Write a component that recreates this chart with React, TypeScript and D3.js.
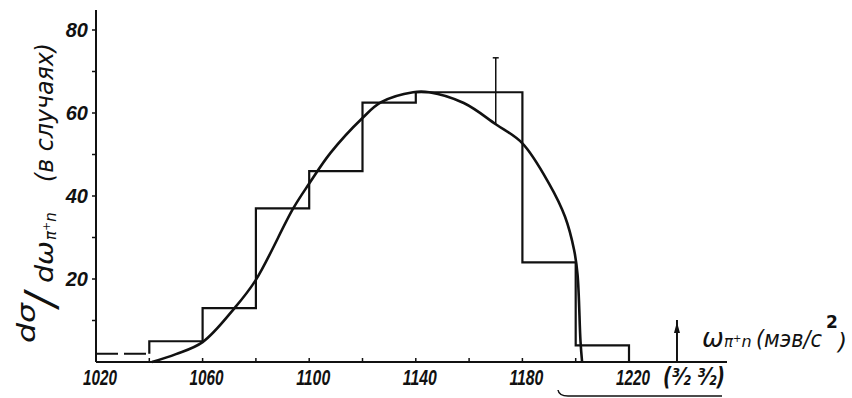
import { useEffect, useRef } from 'react';
import * as d3 from 'd3';

// histogram: bin edges (MeV/c^2) and counts
const binEdges = [1020, 1040, 1060, 1080, 1100, 1120, 1140, 1180, 1200, 1220];
const binCounts = [2, 5, 13, 37, 46, 62.5, 65, 24, 4];

// smooth curve: [omega, value]
const curveOmega = [1041, 1050, 1060, 1072, 1080, 1094, 1100, 1108, 1120, 1127, 1139, 1145, 1158, 1170, 1180, 1190, 1196, 1199.4, 1200.7, 1201.8, 1202.4];
const curveValue = [0, 1.9, 4.8, 13, 19.8, 37, 43, 50.4, 58.8, 62.6, 65, 65, 62.4, 57.3, 52.7, 43, 35, 27, 21, 5, 0];

// error bar at 1170
const errOmega = 1170;
const errLow = 57.3;
const errHigh = 73.3;

const xTickValues = [1040, 1060, 1080, 1100, 1120, 1140, 1160, 1180, 1200, 1220];
const xTickLabels = [1020, 1060, 1100, 1140, 1180, 1220];
const yTickValues = [10, 20, 30, 40, 50, 60, 70, 80];
const yTickLabels = [20, 40, 60, 80];

const markerOmega = 1238;
const markerLabel = '(³⁄₂ ³⁄₂)';

export default function App() {
  const svgRef = useRef<SVGSVGElement>(null);

  useEffect(() => {
    const svg = d3.select(svgRef.current);
    svg.selectAll('*').remove();

    const x = d3.scaleLinear().domain([1020, 1220]).range([96, 629]);
    const y = d3.scaleLinear().domain([0, 80]).range([362, 30]);
    const ink = '#111';
    const numFont = "'Liberation Sans', Arial, sans-serif";
    const handFont = "'DejaVu Sans', 'Liberation Sans', sans-serif";

    // axes lines
    svg.append('line')
      .attr('x1', x(1020)).attr('x2', x(1020))
      .attr('y1', y(0)).attr('y2', 10)
      .attr('stroke', ink).attr('stroke-width', 2);
    svg.append('line')
      .attr('x1', x(1020)).attr('x2', 727)
      .attr('y1', y(0)).attr('y2', y(0))
      .attr('stroke', ink).attr('stroke-width', 2);

    // y ticks
    svg.selectAll('.ytick')
      .data(yTickValues)
      .join('line')
      .attr('class', 'ytick')
      .attr('x1', x(1020) - 4).attr('x2', x(1020))
      .attr('y1', d => y(d)).attr('y2', d => y(d))
      .attr('stroke', ink).attr('stroke-width', 1.5);

    svg.selectAll('.ylab')
      .data(yTickLabels)
      .join('text')
      .attr('class', 'ylab')
      .attr('x', 88)
      .attr('y', d => y(d) + 7)
      .attr('text-anchor', 'end')
      .style('font-family', numFont)
      .style('font-weight', 'bold')
      .style('font-style', 'italic')
      .style('font-size', '20px')
      .attr('fill', ink)
      .text(d => d);

    // x ticks
    svg.selectAll('.xtick')
      .data(xTickValues)
      .join('line')
      .attr('class', 'xtick')
      .attr('x1', d => x(d)).attr('x2', d => x(d))
      .attr('y1', y(0) - 4).attr('y2', y(0))
      .attr('stroke', ink).attr('stroke-width', 1.5);

    svg.selectAll('.xlab')
      .data(xTickLabels)
      .join('text')
      .attr('class', 'xlab')
      .attr('x', d => x(d) + 4)
      .attr('y', 385)
      .attr('text-anchor', 'middle')
      .attr('textLength', 34)
      .attr('lengthAdjust', 'spacingAndGlyphs')
      .style('font-family', "'Liberation Sans Narrow', " + numFont)
      .style('font-weight', 'bold')
      .style('font-style', 'italic')
      .style('font-size', '22px')
      .attr('fill', ink)
      .text(d => d);

    // histogram: first bin dashed
    svg.append('line')
      .attr('x1', x(binEdges[0])).attr('x2', x(binEdges[1]))
      .attr('y1', y(binCounts[0])).attr('y2', y(binCounts[0]))
      .attr('stroke', ink).attr('stroke-width', 2)
      .attr('stroke-dasharray', '22 6');

    const steps: [number, number][] = [[binEdges[1], binCounts[0]]];
    for (let i = 1; i < binCounts.length; i++) {
      steps.push([binEdges[i], binCounts[i]]);
      steps.push([binEdges[i + 1], binCounts[i]]);
    }
    steps.push([binEdges[binEdges.length - 1], 0]);

    svg.append('path')
      .datum(steps)
      .attr('fill', 'none')
      .attr('stroke', ink)
      .attr('stroke-width', 2.2)
      .attr('d', d3.line<[number, number]>().x(d => x(d[0])).y(d => y(d[1])));

    // smooth curve
    const curvePts: [number, number][] = curveOmega.map((w, i) => [w, curveValue[i]]);
    svg.append('path')
      .datum(curvePts)
      .attr('fill', 'none')
      .attr('stroke', ink)
      .attr('stroke-width', 2.6)
      .attr('d', d3.line<[number, number]>()
        .x(d => x(d[0])).y(d => y(d[1]))
        .curve(d3.curveCatmullRom.alpha(0.5)));

    // error bar
    svg.append('line')
      .attr('x1', x(errOmega)).attr('x2', x(errOmega))
      .attr('y1', y(errLow)).attr('y2', y(errHigh))
      .attr('stroke', ink).attr('stroke-width', 1.5);
    svg.append('line')
      .attr('x1', x(errOmega) - 3).attr('x2', x(errOmega) + 3)
      .attr('y1', y(errHigh)).attr('y2', y(errHigh))
      .attr('stroke', ink).attr('stroke-width', 1.5);

    // marker arrow for (3/2 3/2)
    const mx = x(markerOmega);
    svg.append('line')
      .attr('x1', mx).attr('x2', mx)
      .attr('y1', 320).attr('y2', y(0))
      .attr('stroke', ink).attr('stroke-width', 2);
    svg.append('path')
      .attr('d', `M${mx - 3},333 L${mx},322 L${mx + 3},333 Z`)
      .attr('fill', ink);

    svg.append('text')
      .attr('x', 663).attr('y', 385)
      .attr('textLength', 62)
      .attr('lengthAdjust', 'spacingAndGlyphs')
      .style('font-family', handFont)
      .style('font-style', 'italic')
      .style('font-weight', 'bold')
      .style('font-size', '24px')
      .attr('fill', ink)
      .text(markerLabel);

    // bracket under the marker label
    svg.append('path')
      .attr('d', 'M558,390 Q559,396 568,396 L722,396')
      .attr('fill', 'none')
      .attr('stroke', ink)
      .attr('stroke-width', 1.5);

    // x axis title
    const xt = svg.append('text')
      .attr('y', 347)
      .style('font-family', handFont)
      .style('font-style', 'italic')
      .attr('fill', ink);
    xt.append('tspan').attr('x', 702).style('font-size', '26px').text('ω');
    xt.append('tspan').attr('x', 724).style('font-size', '15px').text('π');
    xt.append('tspan').attr('dy', -5).style('font-size', '10px').text('+');
    xt.append('tspan').attr('dy', 5).style('font-size', '16px').text('n');
    svg.append('text')
      .attr('x', 756).attr('y', 347)
      .attr('textLength', 66)
      .attr('lengthAdjust', 'spacingAndGlyphs')
      .style('font-family', handFont)
      .style('font-style', 'italic')
      .style('font-size', '23px')
      .attr('fill', ink)
      .text('(мэв/с');
    svg.append('text')
      .attr('x', 826).attr('y', 328)
      .style('font-family', handFont)
      .style('font-weight', 'bold')
      .style('font-size', '17px')
      .attr('fill', ink)
      .text('2');
    svg.append('text')
      .attr('x', 838).attr('y', 350)
      .style('font-family', handFont)
      .style('font-style', 'italic')
      .style('font-size', '23px')
      .attr('fill', ink)
      .text(')');

    // y axis title, rotated; local x runs upward from the x-axis
    const yt = svg.append('g')
      .attr('transform', 'translate(53,362) rotate(-90)')
      .style('font-family', handFont)
      .style('font-style', 'italic')
      .attr('fill', ink);
    yt.append('text')
      .attr('x', 19).attr('y', -18)
      .attr('textLength', 40).attr('lengthAdjust', 'spacingAndGlyphs')
      .style('font-size', '24px')
      .text('dσ');
    yt.append('text')
      .attr('x', 55).attr('y', 2)
      .style('font-size', '42px')
      .text('/');
    yt.append('text')
      .attr('x', 79).attr('y', 0)
      .attr('textLength', 42).attr('lengthAdjust', 'spacingAndGlyphs')
      .style('font-size', '24px')
      .text('dω');
    const sub = yt.append('text')
      .attr('x', 122).attr('y', 3)
      .style('font-size', '15px');
    sub.append('tspan').text('π');
    sub.append('tspan').attr('dy', -6).style('font-size', '11px').text('+');
    sub.append('tspan').attr('dy', 6).text('n');
    yt.append('text')
      .attr('x', 180).attr('y', 0)
      .attr('textLength', 139).attr('lengthAdjust', 'spacingAndGlyphs')
      .style('font-size', '24px')
      .text('(в случаях)');
  }, []);

  return (
    <svg ref={svgRef} width={852} height={398}
      style={{ position: 'absolute', left: 0, top: 0, background: '#fff' }} />
  );
}
